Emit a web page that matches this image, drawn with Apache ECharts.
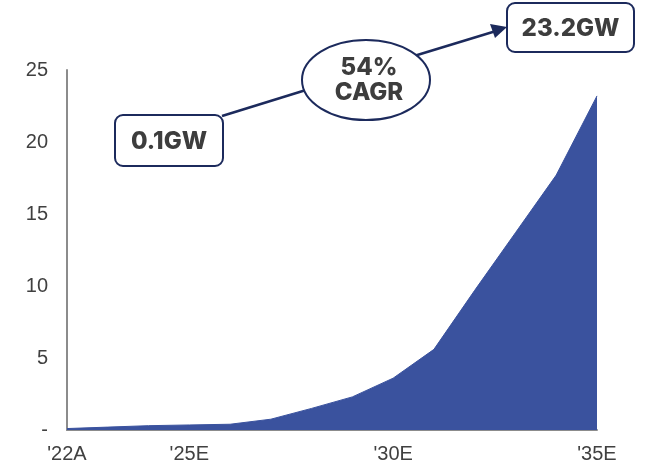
<!DOCTYPE html>
<html>
<head>
<meta charset="utf-8">
<script src="https://cdn.jsdelivr.net/npm/echarts@6/dist/echarts.min.js"></script>
<style>
  html, body { margin: 0; padding: 0; background: #ffffff; }
  #chart { width: 646px; height: 466px; }
</style>
</head>
<body>
<div id="chart"></div>
<script>
// Installed capacity (GW) by year, actual then estimates
const years = ["'22A", "'23E", "'24E", "'25E", "'26E", "'27E", "'28E", "'29E", "'30E", "'31E", "'32E", "'33E", "'34E", "'35E"];
const capacityGW = [0.1, 0.2, 0.3, 0.35, 0.4, 0.75, 1.5, 2.3, 3.6, 5.6, 9.7, 13.7, 17.7, 23.2];
const shownYearLabels = ["'22A", "'25E", "'30E", "'35E"];
const yTicks = [0, 5, 10, 15, 20, 25];
const cagrText = ['54%', 'CAGR'];

const navy = '#1c2a5c';
const areaBlue = '#3a529e';
const axisGray = '#8c8c8c';
const labelColor = '#404040';
const calloutFont = '"Inter", "Noto Sans", sans-serif';

const chart = echarts.init(document.getElementById('chart'), null, { renderer: 'canvas' });

// Rounded callout box with centred bold text
function callout(x, y, w, h, text) {
  return {
    type: 'group',
    x: x, y: y,
    children: [
      {
        type: 'rect',
        shape: { x: 0, y: 0, width: w, height: h, r: 8 },
        style: { fill: '#ffffff', stroke: navy, lineWidth: 2 }
      },
      {
        type: 'text',
        x: w / 2, y: h / 2 + 1,
        style: {
          text: text,
          fill: '#3d3d3d',
          font: '800 24px ' + calloutFont,
          align: 'center',
          verticalAlign: 'middle'
        }
      }
    ]
  };
}

const option = {
  backgroundColor: '#ffffff',
  animation: false,
  grid: { left: 67, right: 49, top: 70, bottom: 36, containLabel: false },
  xAxis: {
    type: 'category',
    data: years,
    boundaryGap: false,
    axisLine: { show: true, lineStyle: { color: axisGray, width: 2 } },
    axisTick: { show: false },
    axisLabel: {
      interval: (idx, val) => shownYearLabels.includes(val),
      color: labelColor,
      fontFamily: '"Liberation Sans", Arial, sans-serif',
      fontSize: 20,
      margin: 14
    },
    splitLine: { show: false }
  },
  yAxis: {
    type: 'value',
    min: yTicks[0],
    max: yTicks[yTicks.length - 1],
    interval: yTicks[1] - yTicks[0],
    axisLine: { show: true, lineStyle: { color: axisGray, width: 2 } },
    axisTick: { show: false },
    splitLine: { show: false },
    axisLabel: {
      formatter: v => (v === 0 ? '-' : String(v)),
      color: labelColor,
      fontFamily: '"Liberation Sans", Arial, sans-serif',
      fontSize: 20,
      margin: 19
    }
  },
  series: [
    {
      type: 'line',
      data: capacityGW,
      showSymbol: false,
      symbol: 'none',
      lineStyle: { width: 1, color: areaBlue },
      areaStyle: { color: areaBlue, opacity: 1 },
      z: 2
    }
  ],
  graphic: [
    // connector from start box to CAGR ellipse
    {
      type: 'line',
      shape: { x1: 222, y1: 116, x2: 306, y2: 90 },
      style: { stroke: navy, lineWidth: 2.5 },
      z: 10
    },
    // connector from CAGR ellipse to end box, with arrow head
    {
      type: 'line',
      shape: { x1: 414, y1: 56, x2: 496, y2: 31 },
      style: { stroke: navy, lineWidth: 2.5 },
      z: 10
    },
    {
      type: 'polygon',
      shape: { points: [[507, 27], [490, 24], [495, 38]] },
      style: { fill: navy },
      z: 10
    },
    {
      type: 'ellipse',
      shape: { cx: 366, cy: 80, rx: 64, ry: 40 },
      style: { fill: '#ffffff', stroke: navy, lineWidth: 2 },
      z: 11
    },
    {
      type: 'text',
      x: 369, y: 80,
      style: {
        text: cagrText.join('\n'),
        fill: '#3d3d3d',
        font: '800 24px ' + calloutFont,
        lineHeight: 25,
        align: 'center',
        verticalAlign: 'middle'
      },
      z: 12
    },
    Object.assign(callout(115, 115, 108, 51, capacityGW[0] + 'GW'), { z: 11 }),
    Object.assign(callout(507, 3, 127, 49, capacityGW[capacityGW.length - 1] + 'GW'), { z: 11 })
  ]
};

chart.setOption(option);
</script>
</body>
</html>
